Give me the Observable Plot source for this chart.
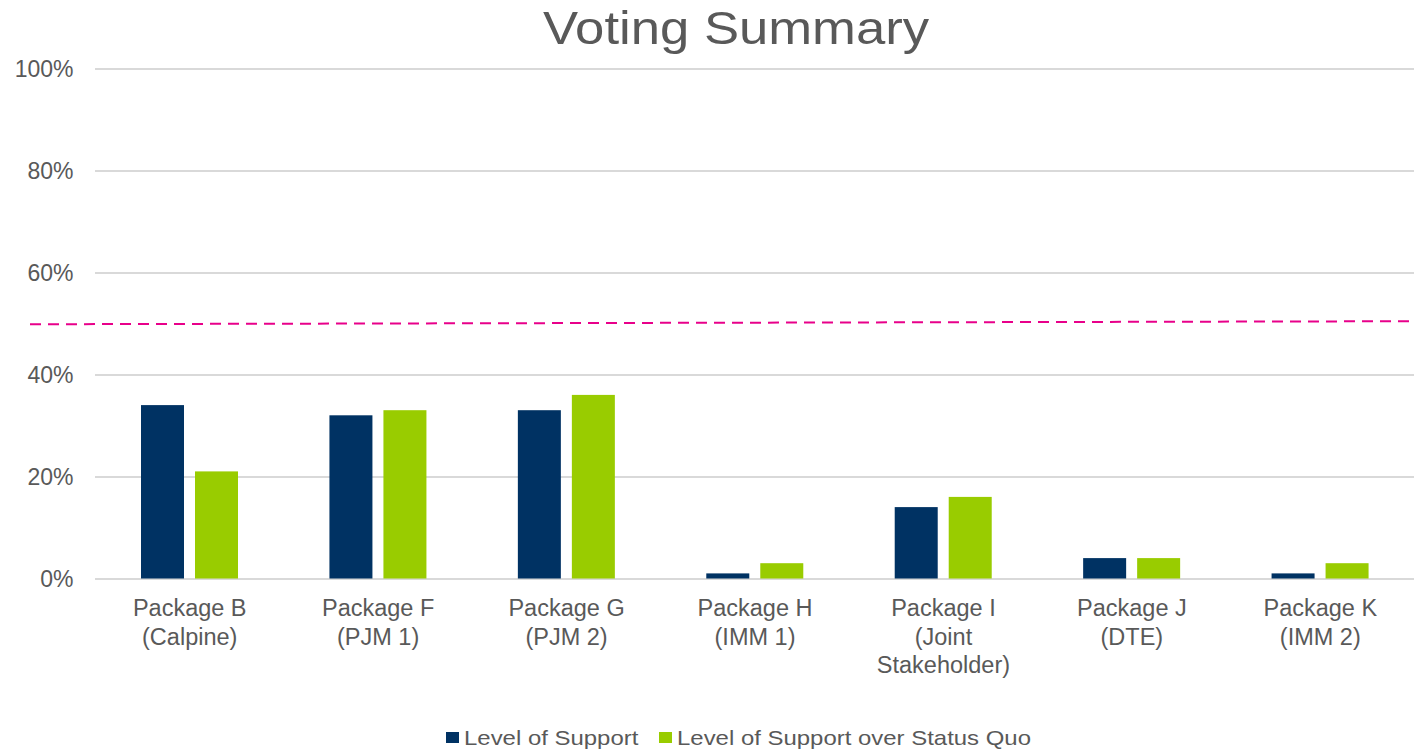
<!DOCTYPE html>
<html>
<head>
<meta charset="utf-8">
<script src="https://cdn.jsdelivr.net/npm/d3@7"></script>
<script src="https://cdn.jsdelivr.net/npm/@observablehq/plot@0.6"></script>
<style>
  html, body { margin: 0; padding: 0; background: #fff; overflow: hidden; }
  body { width: 1414px; height: 750px; position: relative; font-family: "Liberation Sans", Arial, sans-serif; color: #595959; }
  #title { position: absolute; left: 436px; width: 600px; top: 4px; text-align: center; font-size: 47px; line-height: 47px; transform: scaleX(1.12); transform-origin: center; }
  #chart { position: absolute; left: 0; top: 0; }
  .legend-item { position: absolute; font-size: 21px; line-height: 21px; white-space: nowrap; transform: scaleX(1.14); transform-origin: left; }
  .swatch { position: absolute; width: 13px; height: 11px; }
</style>
</head>
<body>
<div id="title">Voting Summary</div>
<div id="chart"></div>
<div id="legend"></div>
<script>
// ---- data ----
const categories = ["Package B", "Package F", "Package G", "Package H", "Package I", "Package J", "Package K"];
const subLabels = ["(Calpine)", "(PJM 1)", "(PJM 2)", "(IMM 1)", "(Joint\nStakeholder)", "(DTE)", "(IMM 2)"];
const seriesNames = ["Level of Support", "Level of Support over Status Quo"];
const support = [34, 32, 33, 1, 14, 4, 1];
const supportOverSQ = [21, 33, 36, 3, 16, 4, 3];
const yTicks = [0, 20, 40, 60, 80, 100];
const thresholdStart = 49.85;
const thresholdEnd = 50.45;
const colors = ["#003263", "#99CC00"];

const rowsA = categories.map((c, i) => ({category: c, value: support[i]}));
const rowsB = categories.map((c, i) => ({category: c, value: supportOverSQ[i]}));

const W = 1414, H = 700;
const mL = 95, mR = 0, mT = 68.5, mB = 121.5;
const band = (W - mL - mR) / categories.length;

const thresholdMark = (index, scales, values, dimensions) => {
  const y = scales.y;
  return d3.create("svg:line")
    .attr("x1", dimensions.marginLeft - 65)
    .attr("x2", dimensions.width)
    .attr("y1", y(thresholdStart))
    .attr("y2", y(thresholdEnd))
    .attr("stroke", "#E8008A")
    .attr("stroke-width", 2)
    .attr("stroke-dasharray", "11 7")
    .node();
};

const chart = Plot.plot({
  width: W,
  height: H,
  marginLeft: mL,
  marginRight: mR,
  marginTop: mT,
  marginBottom: mB,
  style: {fontFamily: "Liberation Sans, Arial, sans-serif", color: "#595959", background: "transparent"},
  x: {domain: categories, padding: 0, round: false, label: null},
  y: {domain: [0, 100], label: null},
  marks: [
    Plot.gridY(yTicks, {stroke: "#d9d9d9", strokeOpacity: 1, strokeWidth: 2}),
    Plot.axisY(yTicks, {tickFormat: d => d + "%", tickSize: 0, tickPadding: 22, fontSize: 23, dy: 1, label: null}),
    Plot.axisX({
      tickSize: 0, tickPadding: 17, fontSize: 23.5, lineHeight: 1.21, label: null,
      tickFormat: d => d + "\n" + subLabels[categories.indexOf(d)]
    }),
    Plot.barY(rowsA, {x: "category", y: "value", fill: colors[0], insetLeft: 46, insetRight: band - 89}),
    Plot.barY(rowsB, {x: "category", y: "value", fill: colors[1], insetLeft: 100, insetRight: band - 143}),
    thresholdMark
  ]
});
document.getElementById("chart").appendChild(chart);

// ---- legend ----
const legend = document.getElementById("legend");
const legendPos = [{sx: 445.5, tx: 464}, {sx: 659, tx: 677}];
seriesNames.forEach((name, i) => {
  const sw = document.createElement("div");
  sw.className = "swatch";
  sw.style.left = legendPos[i].sx + "px";
  sw.style.top = "732px";
  sw.style.background = colors[i];
  legend.appendChild(sw);
  const t = document.createElement("div");
  t.className = "legend-item";
  t.style.left = legendPos[i].tx + "px";
  t.style.top = "727px";
  t.textContent = name;
  legend.appendChild(t);
});
</script>
</body>
</html>
